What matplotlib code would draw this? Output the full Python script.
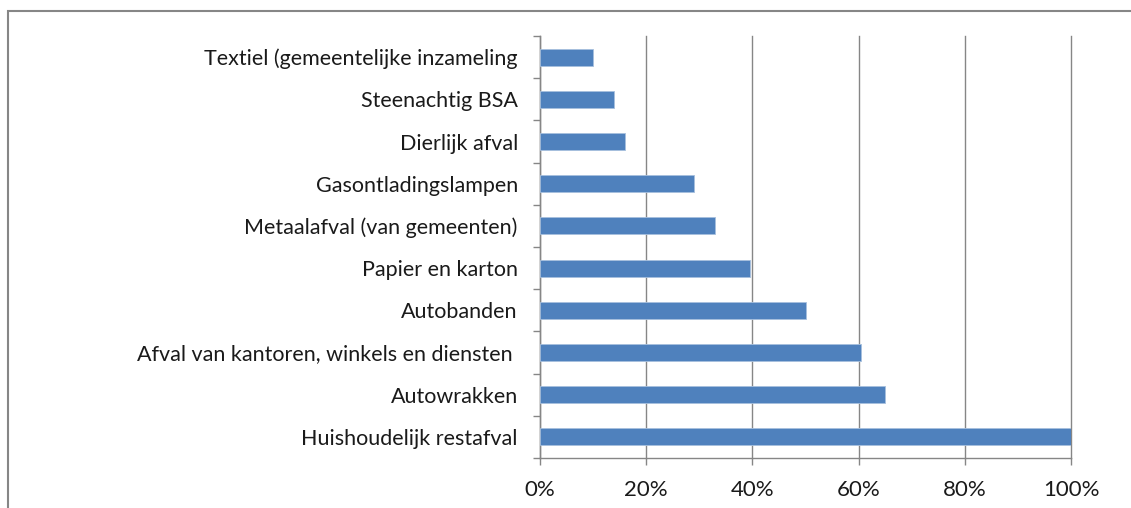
import numpy as np
import matplotlib.pyplot as plt
from matplotlib.patches import Rectangle
from matplotlib.ticker import PercentFormatter, FixedLocator

# Categories, top to bottom as in the chart
categories = [
    'Textiel (gemeentelijke inzameling',
    'Steenachtig BSA',
    'Dierlijk afval',
    'Gasontladingslampen',
    'Metaalafval (van gemeenten)',
    'Papier en karton',
    'Autobanden',
    'Afval van kantoren, winkels en diensten ',
    'Autowrakken',
    'Huishoudelijk restafval',
]
values = [10, 14, 16, 29, 33, 39.5, 50, 60.5, 65, 100]
xticks = [0, 20, 40, 60, 80, 100]

plt.rcParams['font.family'] = ['Lato', 'DejaVu Sans']

fig = plt.figure(figsize=(11.31, 5.08), dpi=100)
ax = fig.add_axes([540 / 1131, 50 / 508, 531 / 1131, 422 / 508])

# outer chart border (cut off at right and bottom in the reference)
fig.patches.append(Rectangle((8 / 1131, -0.1), 1.2, (508 - 11) / 508 + 0.1,
                             transform=fig.transFigure, fill=False,
                             edgecolor='#868686', linewidth=1.5))

y = np.arange(len(categories))
ax.barh(y, values, height=0.4, color='#4F81BD', edgecolor='#A7C0DE',
        linewidth=0.6, zorder=3)

ax.set_xlim(0, 100)
ax.set_ylim(len(categories) - 0.5, -0.5)
ax.set_yticks(y)
ax.set_yticklabels(categories)
ax.yaxis.set_minor_locator(FixedLocator(np.arange(-0.5, len(categories), 1)))
ax.tick_params(axis='y', which='major', length=0, pad=16, labelsize=15.5,
               labelcolor='#1a1a1a')
ax.tick_params(axis='y', which='minor', length=5, width=1, color='#868686')

ax.set_xticks(xticks)
ax.xaxis.set_major_formatter(PercentFormatter(decimals=0))
ax.tick_params(axis='x', length=5, width=1, color='#868686', pad=11,
               labelsize=16, labelcolor='#1a1a1a')

ax.grid(axis='x', color='#868686', linewidth=1, zorder=0)
for line in ax.get_xgridlines():
    line.set_clip_on(False)
for side in ('top', 'right'):
    ax.spines[side].set_visible(False)
for side in ('left', 'bottom'):
    ax.spines[side].set_color('#868686')
    ax.spines[side].set_linewidth(1)

fig.savefig('out.png', dpi=100)
